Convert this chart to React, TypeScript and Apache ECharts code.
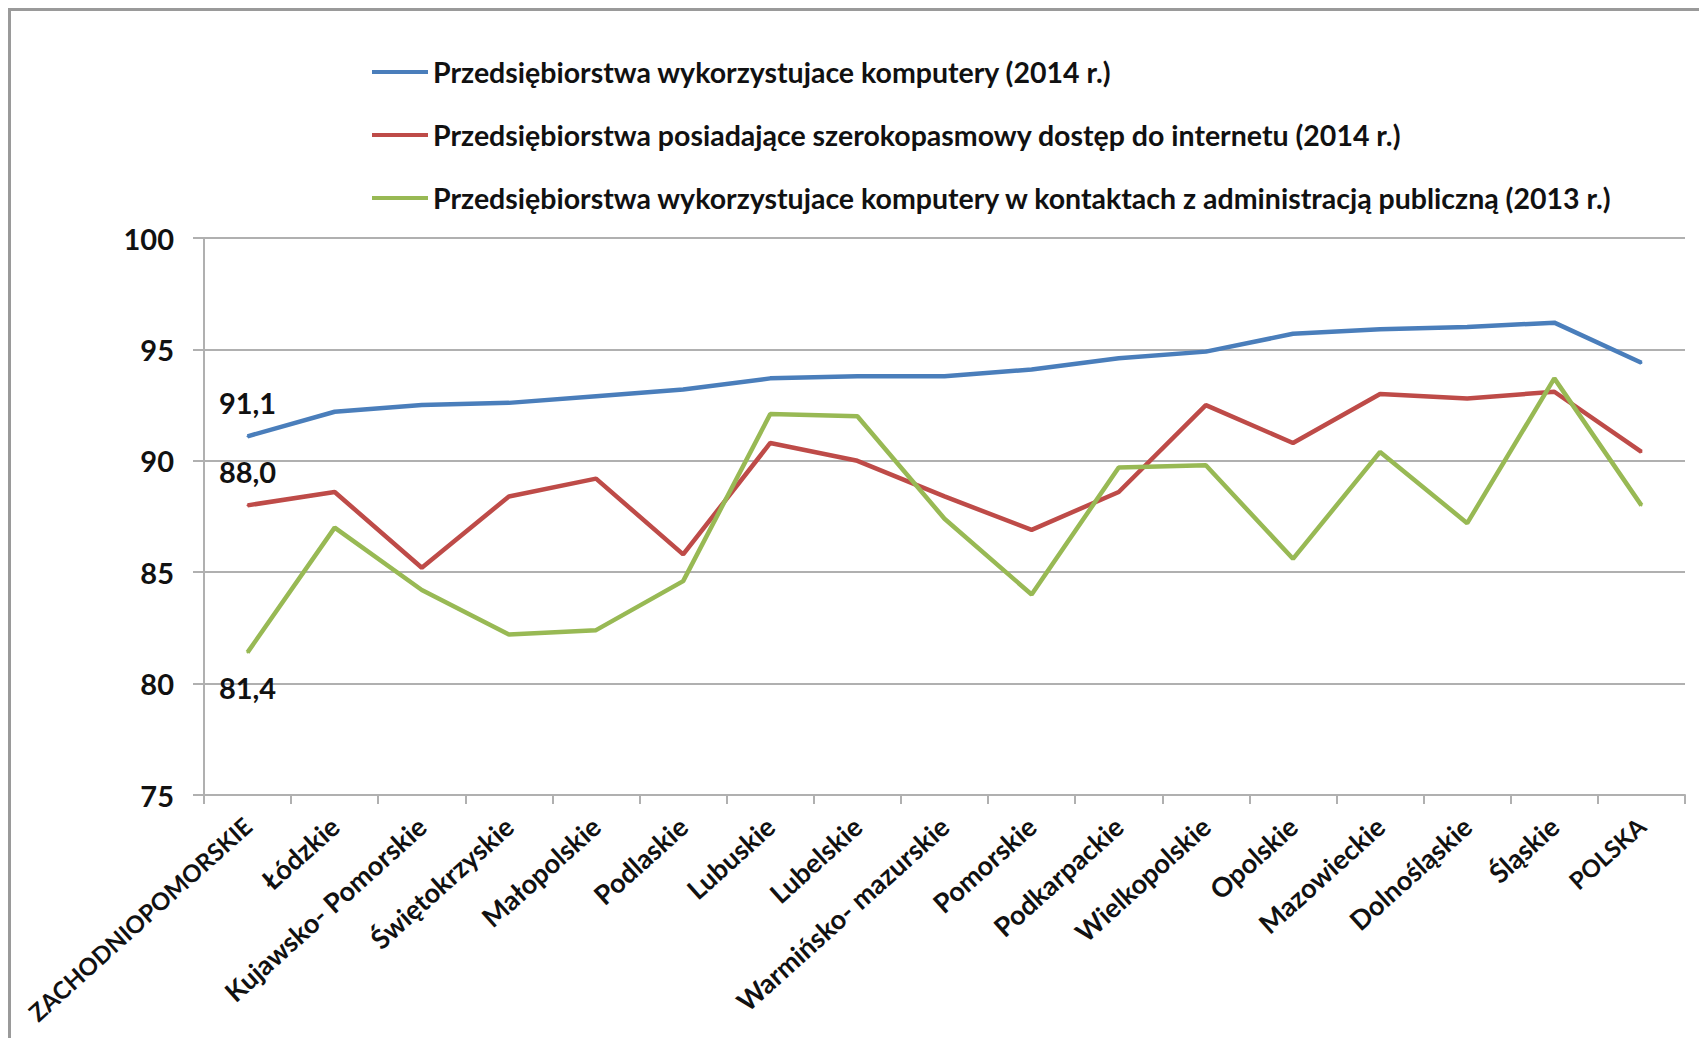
import React, { useEffect, useRef } from "react";
import * as echarts from "echarts";

const categories = [
  "ZACHODNIOPOMORSKIE",
  "Łódzkie",
  "Kujawsko- Pomorskie",
  "Świętokrzyskie",
  "Małopolskie",
  "Podlaskie",
  "Lubuskie",
  "Lubelskie",
  "Warmińsko- mazurskie",
  "Pomorskie",
  "Podkarpackie",
  "Wielkopolskie",
  "Opolskie",
  "Mazowieckie",
  "Dolnośląskie",
  "Śląskie",
  "POLSKA",
];

const seriesNames = [
  "Przedsiębiorstwa wykorzystujace komputery (2014 r.)",
  "Przedsiębiorstwa posiadające szerokopasmowy dostęp do internetu (2014 r.)",
  "Przedsiębiorstwa wykorzystujace komputery w kontaktach z administracją publiczną (2013 r.)",
];

const computers2014 = [91.1, 92.2, 92.5, 92.6, 92.9, 93.2, 93.7, 93.8, 93.8, 94.1, 94.6, 94.9, 95.7, 95.9, 96.0, 96.2, 94.4];
const broadband2014 = [88.0, 88.6, 85.2, 88.4, 89.2, 85.8, 90.8, 90.0, 88.4, 86.9, 88.6, 92.5, 90.8, 93.0, 92.8, 93.1, 90.4];
const publicAdmin2013 = [81.4, 87.0, 84.2, 82.2, 82.4, 84.6, 92.1, 92.0, 87.4, 84.0, 89.7, 89.8, 85.6, 90.4, 87.2, 93.7, 88.0];

const yTicks = [75, 80, 85, 90, 95, 100];

const colors = ["#4a7ebb", "#be4b48", "#98b954"];
const FONT = "Lato, 'Open Sans', sans-serif";

export default function App() {
  const ref = useRef<HTMLDivElement>(null);
  useEffect(() => {
    document.body.style.margin = "0";
    document.body.style.overflow = "hidden";
    const chart = echarts.init(ref.current!, null, { renderer: "svg" });

    const makeData = (vals: number[], pos: string, dist: number) =>
      vals.map((v, i) =>
        i === 0
          ? {
              value: v,
              label: {
                show: true,
                position: pos,
                distance: dist,
                formatter: (p: any) => Number(p.value).toFixed(1).replace(".", ","),
                fontFamily: FONT,
                fontWeight: "bold",
                fontSize: 29,
                color: "#111",
              },
            }
          : v
      );

    const lineSeries = (name: string, vals: number[], color: string, pos: string, dist: number) => ({
      name,
      type: "line",
      data: makeData(vals, pos, dist),
      showSymbol: true,
      symbol: "circle",
      symbolSize: 2,
      lineStyle: { color, width: 4.5 },
      itemStyle: { color },
      label: { show: false },
    });

    chart.setOption({
      animation: false,
      backgroundColor: "#ffffff",
      textStyle: { fontFamily: FONT },
      graphic: [
        {
          type: "rect",
          shape: { x: 9.5, y: 9.5, width: 1760, height: 1100 },
          style: { fill: "none", stroke: "#9a9a9a", lineWidth: 3 },
          silent: true,
        },
      ],
      legend: {
        orient: "vertical",
        left: 372,
        top: 57,
        padding: 0,
        itemGap: 33,
        itemWidth: 56,
        itemHeight: 4,
        icon: "rect",
        textStyle: {
          fontFamily: FONT,
          fontWeight: "bold",
          fontSize: 28.5,
          lineHeight: 30,
          color: "#111",
        },
        data: seriesNames,
      },
      grid: {
        left: 204,
        right: 14,
        top: 238,
        bottom: 243,
        containLabel: false,
        outerBoundsMode: "none",
      },
      xAxis: {
        type: "category",
        data: categories,
        boundaryGap: true,
        axisLine: { show: true, lineStyle: { color: "#b0b0b0", width: 2 } },
        axisTick: { show: true, alignWithLabel: false, length: 9, lineStyle: { color: "#b0b0b0", width: 2 } },
        axisLabel: {
          interval: 0,
          rotate: 42,
          margin: 27,
          fontFamily: FONT,
          fontWeight: "bold",
          fontSize: 27,
          color: "#111",
          formatter: (v: string) => (v === v.toUpperCase() ? "{u|" + v + "}" : v),
          rich: {
            u: { fontFamily: FONT, fontWeight: "bold", fontSize: 24, color: "#111" },
          },
        },
        splitLine: { show: false },
      },
      yAxis: {
        type: "value",
        min: yTicks[0],
        max: yTicks[yTicks.length - 1],
        interval: 5,
        axisLine: { show: true, lineStyle: { color: "#b0b0b0", width: 2 } },
        axisTick: { show: true, length: 11, lineStyle: { color: "#b0b0b0", width: 2 } },
        axisLabel: {
          margin: 30,
          fontFamily: FONT,
          fontWeight: "bold",
          fontSize: 29,
          color: "#111",
        },
        splitLine: { show: true, lineStyle: { color: "#b0b0b0", width: 2 } },
      },
      series: [
        lineSeries(seriesNames[0], computers2014, colors[0], "top", 18),
        lineSeries(seriesNames[1], broadband2014, colors[1], "top", 18),
        lineSeries(seriesNames[2], publicAdmin2013, colors[2], "bottom", 20),
      ],
    });
    return () => chart.dispose();
  }, []);
  return <div ref={ref} style={{ width: 1699, height: 1038 }} />;
}
